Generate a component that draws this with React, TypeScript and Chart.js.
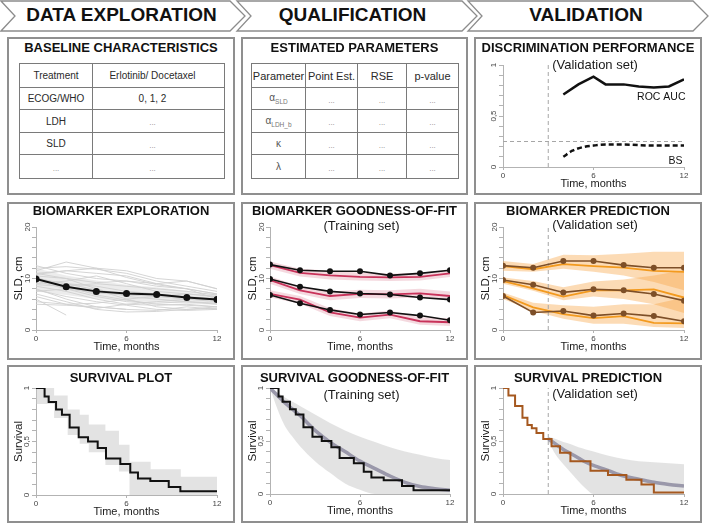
import React, { useEffect, useRef } from 'react';
import { Chart, registerables } from 'chart.js';

Chart.register(...registerables);

const FONT = '"Liberation Sans", Arial, Helvetica, sans-serif';
Chart.defaults.font.family = FONT;

// ---------------- text content ----------------
const stageLabels = ['DATA EXPLORATION', 'QUALIFICATION', 'VALIDATION'];
const panelTitles = [
  ['BASELINE CHARACTERISTICS', 'ESTIMATED PARAMETERS', 'DISCRIMINATION PERFORMANCE'],
  ['BIOMARKER EXPLORATION', 'BIOMARKER GOODNESS-OF-FIT', 'BIOMARKER PREDICTION'],
  ['SURVIVAL PLOT', 'SURVIVAL GOODNESS-OF-FIT', 'SURVIVAL PREDICTION'],
];
const panelSubtitles = [
  ['', '', '(Validation set)'],
  ['', '(Training set)', '(Validation set)'],
  ['', '(Training set)', '(Validation set)'],
];
const baselineHeader = ['Treatment', 'Erlotinib/ Docetaxel'];
const baselineLabels = ['ECOG/WHO', 'LDH', 'SLD', '...'];
const baselineValues = ['0, 1, 2', '...', '...', '...'];
const paramHeader = ['Parameter', 'Point Est.', 'RSE', 'p-value'];
const paramSymbols = ['α', 'α', 'κ', 'λ'];
const paramSubscripts = ['SLD', 'LDH_b', '', ''];
const paramCells = ['...', '...', '...'];

const timeTitle = 'Time, months';
const sldTitle = 'SLD, cm';
const survTitle = 'Survival';
const sldTicks = [0, 10, 20];
const sldTickText = ['0', '10', '20'];
const unitTicks = [0, 0.5, 1];
const unitTickText = ['0', '0,5', '1'];

// ---------------- discrimination performance ----------------
const landmarkTime = 3;
const rocTimes = [4, 5, 6, 6.8, 8, 9, 10, 11, 12];
const rocAuc = [0.71, 0.81, 0.885, 0.81, 0.81, 0.79, 0.78, 0.79, 0.86];
const bsTimes = [4, 4.6, 5.3, 6, 6.8, 8, 10, 12];
const brierScore = [0.1, 0.16, 0.195, 0.21, 0.22, 0.22, 0.21, 0.21];
const bsReference = 0.25;
const curveLabels = [
  { text: 'ROC AUC', x: 12.1, y: 0.69 },
  { text: 'BS', x: 11.9, y: 0.06 },
];

// ---------------- biomarker exploration ----------------
const visitTimes = [0, 2, 4, 6, 8, 10, 12];
const meanSLD = [9.9, 8.4, 7.5, 7.1, 6.9, 6.3, 5.9];
const exploreLow = [7.5, 6.8, 6.0, 5.6, 5.4, 5.1, 4.9];
const exploreHigh = [12.0, 10.6, 9.6, 8.8, 8.3, 7.6, 6.9];
const subjectSLD: (number | null)[][] = [
  [11.5, 13.2, 12.0, 11.5, 10.0, 9.5, 8.0],
  [12.0, 12.3, 11.8, 11.0, 9.5, 8.5, 7.5],
  [11.0, 11.5, 12.0, 10.2, 8.8, 8.0, 7.0],
  [10.5, 10.0, 9.2, 9.5, 9.0, 9.5, 8.0],
  [10.0, 9.0, 8.5, 7.5, 7.0, 6.5, 6.0],
  [9.5, 8.0, 6.5, 5.5, 5.2, 5.5, 5.0],
  [9.0, 9.5, 10.5, 9.0, 7.5, 7.0, 6.5],
  [8.5, 7.5, 6.0, 5.0, 4.8, 5.0, 4.5],
  [8.0, 6.0, 4.5, 4.0, 3.8, 4.5, 4.0],
  [7.5, 8.0, 7.2, 6.8, 6.5, 6.0, 5.5],
  [7.0, 5.5, 4.0, 3.5, 3.6, 4.0, 4.5],
  [6.5, 5.0, 4.2, 5.0, 5.5, 6.0, 5.8],
  [6.0, 2.9, null, null, null, null, null],
  [5.5, 5.0, 5.2, 6.0, 6.5, 7.0, 6.5],
  [5.0, 4.8, 4.5, 4.0, null, null, null],
  [11.0, 10.0, 8.0, 6.5, 6.0, 5.5, 5.2],
  [12.5, 11.0, 10.0, 9.5, 8.5, 8.0, 7.0],
  [10.8, 11.5, 11.0, 10.5, 9.0, 8.0, 6.0],
  [9.8, 9.0, 7.8, 6.0, 4.5, 4.0, 4.2],
  [8.8, 8.5, 9.0, 8.5, 8.0, 7.5, 6.8],
  [7.8, 6.5, 5.5, 4.8, 4.0, 3.8, 4.0],
  [10.2, 8.5, 6.8, 5.8, 5.0, 4.8, 4.5],
];

// ---------------- biomarker goodness-of-fit ----------------
const gofObs1 = [12.7, 11.6, 11.4, 11.4, 10.6, 11.0, 11.6];
const gofObs2 = [9.9, 8.4, 7.5, 7.1, 6.9, 6.3, 5.9];
const gofObs3 = [6.8, 5.2, 3.9, 3.0, 3.4, 2.8, 1.9];
const gofPred1 = [12.6, 11.1, 10.6, 10.3, 10.2, 10.3, 11.0];
const gofPred2 = [9.7, 7.7, 6.6, 7.0, 6.9, 7.1, 6.6];
const gofPred3 = [7.0, 5.9, 3.4, 2.4, 3.0, 1.7, 1.5];
const gofHigh1 = [13.3, 11.9, 11.5, 11.1, 10.9, 11.1, 11.8];
const gofLow1 = [11.9, 10.4, 9.8, 9.6, 9.5, 9.6, 10.3];
const gofHigh2 = [10.4, 8.5, 7.5, 7.8, 7.7, 8.0, 7.5];
const gofLow2 = [9.0, 7.0, 5.8, 6.2, 6.1, 6.3, 5.8];
const gofHigh3 = [7.7, 6.6, 4.2, 3.2, 3.8, 2.5, 2.3];
const gofLow3 = [6.3, 5.1, 2.7, 1.7, 2.3, 1.0, 0.8];

// ---------------- biomarker prediction ----------------
const valObs1 = [12.5, 12.1, 13.4, 13.4, 12.6, 12.1, 12.1];
const valObs2 = [9.7, 8.8, 7.3, 7.9, 7.7, 7.0, 5.7];
const valObs3 = [6.6, 3.4, 3.7, 2.8, 3.2, 2.7, 1.7];
const valPred1 = [12.4, 11.8, 12.8, 12.4, 12.1, 11.5, 11.3];
const valPred2 = [9.5, 8.1, 6.5, 7.7, 7.7, 7.9, 6.3];
const valPred3 = [6.8, 4.4, 3.1, 2.3, 2.7, 1.4, 1.3];
const valHigh1 = [13.4, 12.8, 14.6, 14.5, 14.8, 15.2, 15.2];
const valLow1 = [11.5, 11.3, 11.9, 11.3, 10.6, 9.3, 7.7];
const valHigh2 = [10.2, 9.5, 8.3, 9.4, 9.8, 10.6, 11.6];
const valLow2 = [9.0, 7.6, 5.8, 6.5, 6.0, 5.0, 3.3];
const valHigh3 = [7.3, 5.3, 4.8, 4.5, 5.0, 5.0, 6.3];
const valLow3 = [6.0, 3.7, 2.2, 1.2, 1.2, 0.6, 0.4];

// ---------------- survival (training) ----------------
const kmTimes = [0, 0.57, 0.84, 1.33, 1.72, 2.23, 2.83, 3.45, 4.09, 4.64, 5.59, 6.25, 6.76, 7.58, 8.8, 9.57, 12];
const kmSurv = [1, 0.92, 0.87, 0.8, 0.75, 0.63, 0.54, 0.5, 0.44, 0.34, 0.29, 0.21, 0.155, 0.13, 0.075, 0.035, 0.035];
const kmBandTimes = [0, 1.2, 2.1, 2.9, 3.5, 4.6, 5.5, 6.2, 7.6, 9.6, 12];
const kmBandUpper = [1.0, 0.93, 0.8, 0.75, 0.66, 0.6, 0.47, 0.31, 0.24, 0.17, 0.17];
const kmBandLower = [0.85, 0.72, 0.56, 0.48, 0.4, 0.28, 0.22, 0.0, 0.0, 0.0, 0.0];

const smoothTimes = [0, 0.5, 1, 1.5, 2, 3, 4, 5, 6, 7, 8, 9, 10, 11, 12];
const gofSurvPred = [1, 0.93, 0.86, 0.8, 0.74, 0.6, 0.49, 0.4, 0.31, 0.24, 0.17, 0.11, 0.07, 0.05, 0.035];
const gofSurvUpper = [1, 0.96, 0.91, 0.87, 0.83, 0.75, 0.67, 0.6, 0.54, 0.49, 0.44, 0.4, 0.37, 0.34, 0.32];
const gofSurvLower = [1, 0.8, 0.64, 0.54, 0.45, 0.31, 0.2, 0.1, 0.04, 0, 0, 0, 0, 0, 0];

// ---------------- survival (validation) ----------------
const valKmTimes = [0, 0.36, 0.8, 1.29, 1.62, 1.91, 2.22, 2.67, 3.22, 3.78, 4.47, 5.8, 6.96, 8.18, 9.18, 10.0, 12];
const valKmSurv = [1, 0.93, 0.83, 0.72, 0.65, 0.62, 0.575, 0.52, 0.45, 0.39, 0.31, 0.22, 0.18, 0.135, 0.09, 0.015, 0.015];
const valSurvTimes = [3, 3.5, 4, 4.5, 5, 5.5, 6, 7, 8, 9, 10, 11, 12];
const valSurvPred = [0.52, 0.47, 0.42, 0.38, 0.34, 0.3, 0.27, 0.22, 0.17, 0.14, 0.11, 0.09, 0.075];
const valSurvUpper = [0.54, 0.52, 0.49, 0.47, 0.44, 0.42, 0.4, 0.36, 0.33, 0.31, 0.3, 0.29, 0.28];
const valSurvLower = [0.5, 0.37, 0.28, 0.2, 0.12, 0.05, 0, 0, 0, 0, 0, 0, 0];

// ---------------- colours ----------------
const BLACK = '#111111';
const AXIS = '#b3b3b3';
const DASH = '#a6a6a6';
const GREY_BAND = 'rgba(200,200,200,0.5)';
const CRIMSON = '#c8325a';
const PINK_BAND = 'rgba(205,80,110,0.22)';
const ORANGE = '#f39a1e';
const ORANGE_BAND = 'rgba(248,166,70,0.4)';
const BROWN = '#7d4f28';
const KM_BROWN = '#a5581f';
const PRED_GREY = '#9a98aa';

// ---------------- helpers ----------------
type XY = { x: number; y: number };
const pts = (xs: number[], ys: (number | null)[]): XY[] =>
  xs
    .map((x, i) => ({ x, y: ys[i] as number }))
    .filter((p) => p.y !== null && p.y !== undefined);

function lineDs(xs: number[], ys: (number | null)[], color: string, width: number, extra: any = {}) {
  return {
    data: pts(xs, ys),
    borderColor: color,
    backgroundColor: color,
    borderWidth: width,
    pointRadius: 0,
    pointHoverRadius: 0,
    fill: false,
    tension: 0,
    ...extra,
  };
}

function bandDs(xs: number[], lo: number[], hi: number[], color: string, extra: any = {}) {
  const base = {
    borderColor: 'rgba(0,0,0,0)',
    borderWidth: 0,
    pointRadius: 0,
    pointHoverRadius: 0,
    tension: 0,
    ...extra,
  };
  return [
    { ...base, data: pts(xs, lo), fill: false },
    { ...base, data: pts(xs, hi), fill: '-1', backgroundColor: color },
  ];
}

function xScale() {
  return {
    type: 'linear',
    min: 0,
    max: 12,
    afterFit: (s: any) => {
      s.height = 24;
    },
    ticks: { stepSize: 6, autoSkip: false, maxRotation: 0, padding: 1, font: { size: 8 }, color: '#444' },
    grid: { drawOnChartArea: false, tickLength: 3, color: AXIS },
    border: { color: AXIS },
    title: { display: true, text: timeTitle, font: { size: 11 }, color: '#1a1a1a', padding: 0 },
  };
}

function yScale(max: number, step: number, majors: number[], majorText: string[], title?: string) {
  return {
    type: 'linear',
    min: 0,
    max,
    afterFit: (s: any) => {
      s.width = 27;
    },
    ticks: {
      stepSize: step,
      autoSkip: false,
      minRotation: 90,
      maxRotation: 90,
      crossAlign: 'center',
      padding: 0,
      font: { size: 8 },
      color: '#444',
      callback: (v: number) => {
        const k = majors.findIndex((m) => Math.abs(m - v) < 1e-6);
        return k >= 0 ? majorText[k] : '';
      },
    },
    grid: { drawOnChartArea: false, tickLength: 4, color: AXIS },
    border: { color: AXIS },
    title: {
      display: !!title,
      text: title || '',
      font: { size: 11.5 },
      color: '#1a1a1a',
      padding: { top: 2.5, bottom: 0 },
    },
  };
}

function options(y: any, pad: { top: number; right: number; bottom: number; left: number }) {
  return {
    responsive: false,
    animation: false,
    events: [],
    layout: { padding: pad },
    plugins: { legend: { display: false }, tooltip: { enabled: false }, title: { display: false } },
    scales: { x: xScale(), y },
  };
}

const curveLabelPlugin = {
  id: 'curveLabels',
  afterDatasetsDraw(chart: any) {
    const { ctx, scales } = chart;
    ctx.save();
    ctx.font = `10.5px ${FONT}`;
    ctx.fillStyle = BLACK;
    ctx.textAlign = 'right';
    ctx.textBaseline = 'middle';
    for (const l of curveLabels) {
      ctx.fillText(l.text, scales.x.getPixelForValue(l.x), scales.y.getPixelForValue(l.y));
    }
    ctx.restore();
  },
};

const dotStyle = (c: string, r: number) => ({
  pointRadius: r,
  pointBackgroundColor: c,
  pointBorderColor: c,
  pointBorderWidth: 0,
});

// ---------------- chart builders ----------------
function discriminationConfig(pad: any) {
  return {
    type: 'line',
    data: {
      datasets: [
        lineDs(rocTimes, rocAuc, BLACK, 2.5),
        lineDs(bsTimes, brierScore, BLACK, 2.5, { borderDash: [5, 3], cubicInterpolationMode: 'monotone' }),
        lineDs([0, 12], [bsReference, bsReference], DASH, 1, { borderDash: [4, 3] }),
        lineDs([landmarkTime, landmarkTime], [0, 1], DASH, 1, { borderDash: [4, 3] }),
      ],
    },
    options: options(yScale(1, 0.1, unitTicks, unitTickText), pad),
    plugins: [curveLabelPlugin],
  };
}

function explorationConfig(pad: any) {
  return {
    type: 'line',
    data: {
      datasets: [
        lineDs(visitTimes, meanSLD, BLACK, 2, dotStyle(BLACK, 3.5)),
        ...subjectSLD.map((s) => lineDs(visitTimes, s, '#d0d0d0', 0.9)),
        ...bandDs(visitTimes, exploreLow, exploreHigh, 'rgba(200,200,200,0.35)'),
      ],
    },
    options: options(yScale(20, 2, sldTicks, sldTickText, sldTitle), pad),
  };
}

function gofConfig(pad: any) {
  return {
    type: 'line',
    data: {
      datasets: [
        lineDs(visitTimes, gofObs1, BLACK, 1.6, dotStyle(BLACK, 3)),
        lineDs(visitTimes, gofObs2, BLACK, 1.6, dotStyle(BLACK, 3)),
        lineDs(visitTimes, gofObs3, BLACK, 1.6, dotStyle(BLACK, 3)),
        lineDs(visitTimes, gofPred1, CRIMSON, 1.8),
        lineDs(visitTimes, gofPred2, CRIMSON, 1.8),
        lineDs(visitTimes, gofPred3, CRIMSON, 1.8),
        ...bandDs(visitTimes, gofLow1, gofHigh1, PINK_BAND),
        ...bandDs(visitTimes, gofLow2, gofHigh2, PINK_BAND),
        ...bandDs(visitTimes, gofLow3, gofHigh3, PINK_BAND),
      ],
    },
    options: options(yScale(20, 2, sldTicks, sldTickText, sldTitle), pad),
  };
}

function predictionConfig(pad: any) {
  return {
    type: 'line',
    data: {
      datasets: [
        lineDs(visitTimes, valObs1, BROWN, 1.6, dotStyle(BROWN, 3)),
        lineDs(visitTimes, valObs2, BROWN, 1.6, dotStyle(BROWN, 3)),
        lineDs(visitTimes, valObs3, BROWN, 1.6, dotStyle(BROWN, 3)),
        lineDs(visitTimes, valPred1, ORANGE, 1.8),
        lineDs(visitTimes, valPred2, ORANGE, 1.8),
        lineDs(visitTimes, valPred3, ORANGE, 1.8),
        lineDs([landmarkTime, landmarkTime], [0, 20], DASH, 1, { borderDash: [4, 3] }),
        ...bandDs(visitTimes, valLow1, valHigh1, ORANGE_BAND),
        ...bandDs(visitTimes, valLow2, valHigh2, ORANGE_BAND),
        ...bandDs(visitTimes, valLow3, valHigh3, ORANGE_BAND),
      ],
    },
    options: options(yScale(20, 2, sldTicks, sldTickText, sldTitle), pad),
  };
}

function survivalConfig(pad: any) {
  return {
    type: 'line',
    data: {
      datasets: [
        lineDs(kmTimes, kmSurv, BLACK, 2, { stepped: 'before' }),
        ...bandDs(kmBandTimes, kmBandLower, kmBandUpper, GREY_BAND, { stepped: 'before' }),
      ],
    },
    options: options(yScale(1, 0.1, unitTicks, unitTickText, survTitle), pad),
  };
}

function survivalGofConfig(pad: any) {
  return {
    type: 'line',
    data: {
      datasets: [
        lineDs(kmTimes, kmSurv, BLACK, 2, { stepped: 'before' }),
        lineDs(smoothTimes, gofSurvPred, PRED_GREY, 3.5, { cubicInterpolationMode: 'monotone' }),
        ...bandDs(smoothTimes, gofSurvLower, gofSurvUpper, GREY_BAND, { cubicInterpolationMode: 'monotone' }),
      ],
    },
    options: options(yScale(1, 0.1, unitTicks, unitTickText, survTitle), pad),
  };
}

function survivalPredConfig(pad: any) {
  return {
    type: 'line',
    data: {
      datasets: [
        lineDs(valKmTimes, valKmSurv, KM_BROWN, 2, { stepped: 'before' }),
        lineDs(valSurvTimes, valSurvPred, PRED_GREY, 3.5, { cubicInterpolationMode: 'monotone' }),
        lineDs([landmarkTime, landmarkTime], [0, 1], DASH, 1, { borderDash: [4, 3] }),
        ...bandDs(valSurvTimes, valSurvLower, valSurvUpper, GREY_BAND, { cubicInterpolationMode: 'monotone' }),
      ],
    },
    options: options(yScale(1, 0.1, unitTicks, unitTickText, survTitle), pad),
  };
}

// ---------------- layout ----------------
const COLS = [
  { l: 7, w: 228 },
  { l: 241, w: 227 },
  { l: 474, w: 228 },
];
const ROWS = [
  { t: 37, h: 158 },
  { t: 202, h: 158 },
  { t: 365, h: 158 },
];
const TITLE_Y = [48, 211, 378];
const SUBTITLE_Y = [
  [0, 0, 65],
  [0, 226, 225],
  [0, 395, 394],
];

const CHARTS: { r: number; c: number; build: (p: any) => any; pad: any }[] = [
  { r: 0, c: 2, build: discriminationConfig, pad: { top: 26, right: 16, bottom: 2, left: 0 } },
  { r: 1, c: 0, build: explorationConfig, pad: { top: 23, right: 16, bottom: 4, left: 0 } },
  { r: 1, c: 1, build: gofConfig, pad: { top: 23, right: 16, bottom: 4, left: 0 } },
  { r: 1, c: 2, build: predictionConfig, pad: { top: 23, right: 16, bottom: 4, left: 0 } },
  { r: 2, c: 0, build: survivalConfig, pad: { top: 21, right: 16, bottom: 2, left: 0 } },
  { r: 2, c: 1, build: survivalGofConfig, pad: { top: 21, right: 16, bottom: 3, left: 0 } },
  { r: 2, c: 2, build: survivalPredConfig, pad: { top: 21, right: 16, bottom: 3, left: 0 } },
];

function ChartCanvas({ r, c, build, pad }: { r: number; c: number; build: (p: any) => any; pad: any }) {
  const ref = useRef<HTMLCanvasElement>(null);
  const left = COLS[c].l + 2;
  const top = ROWS[r].t + 2;
  const width = COLS[c].w - 4;
  const height = ROWS[r].h - 4;
  useEffect(() => {
    const chart = new Chart(ref.current as HTMLCanvasElement, build(pad));
    return () => chart.destroy();
  }, []);
  return (
    <canvas
      ref={ref}
      width={width}
      height={height}
      style={{ position: 'absolute', left, top, width, height, zIndex: 2 }}
    />
  );
}

const CHEVRONS = [
  [1, 230],
  [237, 462],
  [468, 693],
];
const STAGE_CX = [121.5, 352.5, 586];

function Header() {
  return (
    <>
      <svg width={709} height={34} style={{ position: 'absolute', left: 0, top: 0 }}>
        {CHEVRONS.map(([a, b], i) => (
          <polygon
            key={i}
            points={`${a},1 ${b},1 ${b + 15},16 ${b},31 ${a},31 ${a + 14},16`}
            fill="#fff"
            stroke="#8c8c8c"
            strokeWidth={1.3}
          />
        ))}
      </svg>
      {stageLabels.map((s, i) => (
        <div
          key={s}
          style={{
            position: 'absolute',
            left: STAGE_CX[i] - 120,
            width: 240,
            top: 4,
            lineHeight: '22px',
            fontSize: 19,
            fontWeight: 'bold',
            textAlign: 'center',
            color: '#111',
          }}
        >
          {s}
        </div>
      ))}
    </>
  );
}

const cellBase: React.CSSProperties = {
  boxSizing: 'border-box',
  borderRight: '1px solid #7a7a7a',
  borderBottom: '1px solid #7a7a7a',
  display: 'flex',
  alignItems: 'center',
  justifyContent: 'center',
  color: '#2a2a2a',
  whiteSpace: 'nowrap',
};
const dots: React.CSSProperties = { color: '#8a8a8a', fontSize: 8, paddingTop: 3 };

function GridTable({
  left,
  top,
  cols,
  rows,
  cells,
  fontSize,
  colShift,
}: {
  left: number;
  top: number;
  cols: number[];
  rows: number[];
  cells: React.ReactNode[][];
  fontSize: number;
  colShift?: number[];
}) {
  return (
    <div
      style={{
        position: 'absolute',
        left,
        top,
        display: 'grid',
        gridTemplateColumns: cols.map((w) => `${w}px`).join(' '),
        gridTemplateRows: rows.map((h) => `${h}px`).join(' '),
        borderLeft: '1px solid #7a7a7a',
        borderTop: '1px solid #7a7a7a',
        fontSize,
        zIndex: 3,
      }}
    >
      {cells.map((row, ri) =>
        row.map((cell, ci) => (
          <div key={`${ri}-${ci}`} style={{ ...cellBase, paddingRight: colShift ? colShift[ci] : 0 }}>
            {cell}
          </div>
        ))
      )}
    </div>
  );
}

const txt = (s: string, size?: number) =>
  s === '...' ? <span style={dots}>...</span> : <span style={size ? { fontSize: size } : undefined}>{s}</span>;

export default function App() {
  const baselineCells: React.ReactNode[][] = [
    baselineHeader.map((s) => txt(s)),
    ...baselineLabels.map((l, i) => [txt(l), txt(baselineValues[i])]),
  ];
  const paramTableCells: React.ReactNode[][] = [
    paramHeader.map((s) => txt(s, 11)),
    ...paramSymbols.map((sym, i) => [
      <span style={{ color: '#555', fontSize: 10 }}>
        {sym}
        {paramSubscripts[i] ? <sub style={{ fontSize: 6.5, color: '#777' }}>{paramSubscripts[i]}</sub> : null}
      </span>,
      ...paramCells.map((s) => txt(s)),
    ]),
  ];
  return (
    <div
      style={{
        position: 'fixed',
        left: 0,
        top: 0,
        width: 709,
        height: 524,
        background: '#fff',
        fontFamily: FONT,
        overflow: 'hidden',
      }}
    >
      <Header />
      {ROWS.map((r, ri) =>
        COLS.map((c, ci) => (
          <div
            key={`p${ri}${ci}`}
            style={{
              position: 'absolute',
              left: c.l,
              top: r.t,
              width: c.w,
              height: r.h,
              boxSizing: 'border-box',
              border: '2px solid #8f8f8f',
              background: '#fff',
              zIndex: 1,
            }}
          />
        ))
      )}
      {ROWS.map((r, ri) =>
        COLS.map((c, ci) => (
          <React.Fragment key={`t${ri}${ci}`}>
            <div
              style={{
                position: 'absolute',
                left: c.l,
                width: c.w,
                top: TITLE_Y[ri] - 8,
                lineHeight: '16px',
                fontSize: 13,
                fontWeight: 'bold',
                textAlign: 'center',
                color: '#111',
                zIndex: 4,
                whiteSpace: 'nowrap',
              }}
            >
              {panelTitles[ri][ci]}
            </div>
            {panelSubtitles[ri][ci] ? (
              <div
                style={{
                  position: 'absolute',
                  left: c.l + 7,
                  width: c.w,
                  top: SUBTITLE_Y[ri][ci] - 8,
                  lineHeight: '16px',
                  fontSize: 13,
                  textAlign: 'center',
                  color: '#1a1a1a',
                  zIndex: 4,
                }}
              >
                {panelSubtitles[ri][ci]}
              </div>
            ) : null}
          </React.Fragment>
        ))
      )}
      <GridTable
        left={19}
        top={63}
        cols={[73, 132]}
        rows={[24, 22, 23, 22, 24]}
        cells={baselineCells}
        fontSize={10}
        colShift={[0, 12]}
      />
      <GridTable
        left={251}
        top={63}
        cols={[54, 52, 49, 52]}
        rows={[24, 22, 23, 22, 24]}
        cells={paramTableCells}
        fontSize={10}
      />
      {CHARTS.map((ch) => (
        <ChartCanvas key={`${ch.r}${ch.c}`} {...ch} />
      ))}
    </div>
  );
}
